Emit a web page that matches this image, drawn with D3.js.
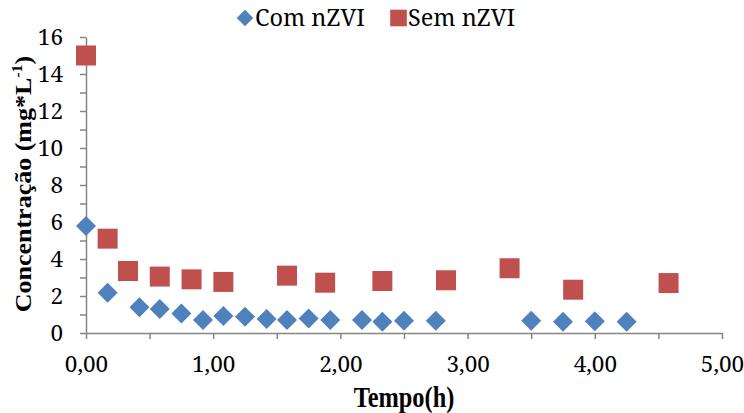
<!DOCTYPE html>
<html>
<head>
<meta charset="utf-8">
<script src="https://cdn.jsdelivr.net/npm/d3@7"></script>
<style>
  body { margin: 0; background: #fff; }
  svg { display: block; }
  .axis path, .axis line { stroke: #868686; stroke-width: 1.5; }
</style>
</head>
<body>
<div id="chart"></div>
<script>
// Com nZVI (blue diamonds)
const comTempo = [0, 0.17, 0.42, 0.58, 0.75, 0.92, 1.08, 1.25, 1.42, 1.58, 1.75, 1.92, 2.17, 2.33, 2.5, 2.75, 3.5, 3.75, 4.0, 4.25];
const comConc  = [5.78, 2.18, 1.39, 1.3, 1.06, 0.7, 0.92, 0.88, 0.76, 0.7, 0.79, 0.7, 0.7, 0.61, 0.66, 0.66, 0.66, 0.61, 0.64, 0.61];

// Sem nZVI (red squares)
const semTempo = [0, 0.17, 0.33, 0.58, 0.83, 1.08, 1.58, 1.88, 2.33, 2.83, 3.33, 3.83, 4.58];
const semConc  = [15.0, 5.1, 3.35, 3.05, 2.9, 2.76, 3.1, 2.72, 2.81, 2.85, 3.5, 2.34, 2.7];

const xTicks = [0, 1, 2, 3, 4, 5];
const xMinor = [0.5, 1.5, 2.5, 3.5, 4.5];
const yTicks = [0, 2, 4, 6, 8, 10, 12, 14, 16];
const yMinor = [1, 3, 5, 7, 9, 11, 13, 15];

const seriesNames = ['Com nZVI', 'Sem nZVI'];
const seriesColors = ['#4F81BD', '#C0504D'];

// regular Liberation Serif falls back to sans here, Noto Serif is the closest serif
const FONT = '"Noto Serif", "DejaVu Serif", serif';
const FONT_BOLD = '"Liberation Serif", "Times New Roman", serif';

const width = 744, height = 413;
const margin = { top: 37, right: 22, bottom: 80, left: 86 };

const svg = d3.select('#chart').append('svg')
  .attr('width', width)
  .attr('height', height);

const x = d3.scaleLinear().domain([0, 5]).range([margin.left, width - margin.right]);
const y = d3.scaleLinear().domain([0, 16]).range([height - margin.bottom, margin.top]);

const fmtX = d => d3.format('.2f')(d).replace('.', ',');

// minor ticks first
svg.append('g')
  .attr('class', 'axis')
  .attr('transform', 'translate(0,' + y(0) + ')')
  .call(d3.axisBottom(x).tickValues(xMinor).tickSize(6).tickFormat(''))
  .select('.domain').remove();

svg.append('g')
  .attr('class', 'axis')
  .attr('transform', 'translate(' + x(0) + ',0)')
  .call(d3.axisLeft(y).tickValues(yMinor).tickSize(6).tickFormat(''))
  .select('.domain').remove();

const xAxis = svg.append('g')
  .attr('class', 'axis')
  .attr('transform', 'translate(0,' + y(0) + ')')
  .call(d3.axisBottom(x).tickValues(xTicks).tickSize(6).tickSizeOuter(0).tickPadding(17).tickFormat(fmtX));

const yAxis = svg.append('g')
  .attr('class', 'axis')
  .attr('transform', 'translate(' + x(0) + ',0)')
  .call(d3.axisLeft(y).tickValues(yTicks).tickSize(6).tickSizeOuter(0).tickPadding(17));

svg.selectAll('.axis')
  .attr('font-family', null)
  .attr('font-size', null);
svg.selectAll('.axis text')
  .style('font-family', FONT)
  .style('font-size', '22.5px')
  .style('fill', '#000');

// markers
const diamond = r => 'M0,' + (-r) + 'L' + r + ',0L0,' + r + 'L' + (-r) + ',0Z';
const square = s => 'M' + (-s) + ',' + (-s) + 'H' + s + 'V' + s + 'H' + (-s) + 'Z';

svg.append('g').selectAll('path')
  .data(semTempo.map((t, i) => ({ t: t, c: semConc[i] })))
  .enter()
  .append('path')
  .attr('d', square(10))
  .attr('transform', d => 'translate(' + x(d.t) + ',' + y(d.c) + ')')
  .attr('fill', seriesColors[1]);

svg.append('g').selectAll('path')
  .data(comTempo.map((t, i) => ({ t: t, c: comConc[i] })))
  .enter()
  .append('path')
  .attr('d', diamond(10))
  .attr('transform', d => 'translate(' + x(d.t) + ',' + y(d.c) + ')')
  .attr('fill', seriesColors[0]);

// axis titles (source image is a bit narrow, so squeeze text horizontally)
svg.append('text')
  .style('font-family', FONT_BOLD)
  .style('font-weight', 'bold')
  .style('font-size', '29px')
  .attr('transform', 'translate(404,407) scale(0.84,1)')
  .attr('text-anchor', 'middle')
  .text('Tempo(h)');

const yTitle = svg.append('text')
  .style('font-family', FONT_BOLD)
  .style('font-weight', 'bold')
  .style('font-size', '26px')
  .attr('transform', 'translate(31,184) scale(0.92,1) rotate(-90)')
  .attr('text-anchor', 'middle');
yTitle.append('tspan').text('Concentração (mg*L');
yTitle.append('tspan').attr('dy', -10).style('font-size', '16px').text('-1');
yTitle.append('tspan').attr('dy', 10).text(')');

// legend
const legend = svg.append('g');
legend.append('path')
  .attr('d', diamond(8.3))
  .attr('transform', 'translate(245,18)')
  .attr('fill', seriesColors[0]);
legend.append('text').attr('x', 255).attr('y', 26).text(seriesNames[0]);
legend.append('path')
  .attr('d', square(8.3))
  .attr('transform', 'translate(398.5,18)')
  .attr('fill', seriesColors[1]);
legend.append('text').attr('x', 408).attr('y', 26).text(seriesNames[1]);
legend.selectAll('text')
  .style('font-family', FONT)
  .style('font-size', '23.5px');
</script>
</body>
</html>
